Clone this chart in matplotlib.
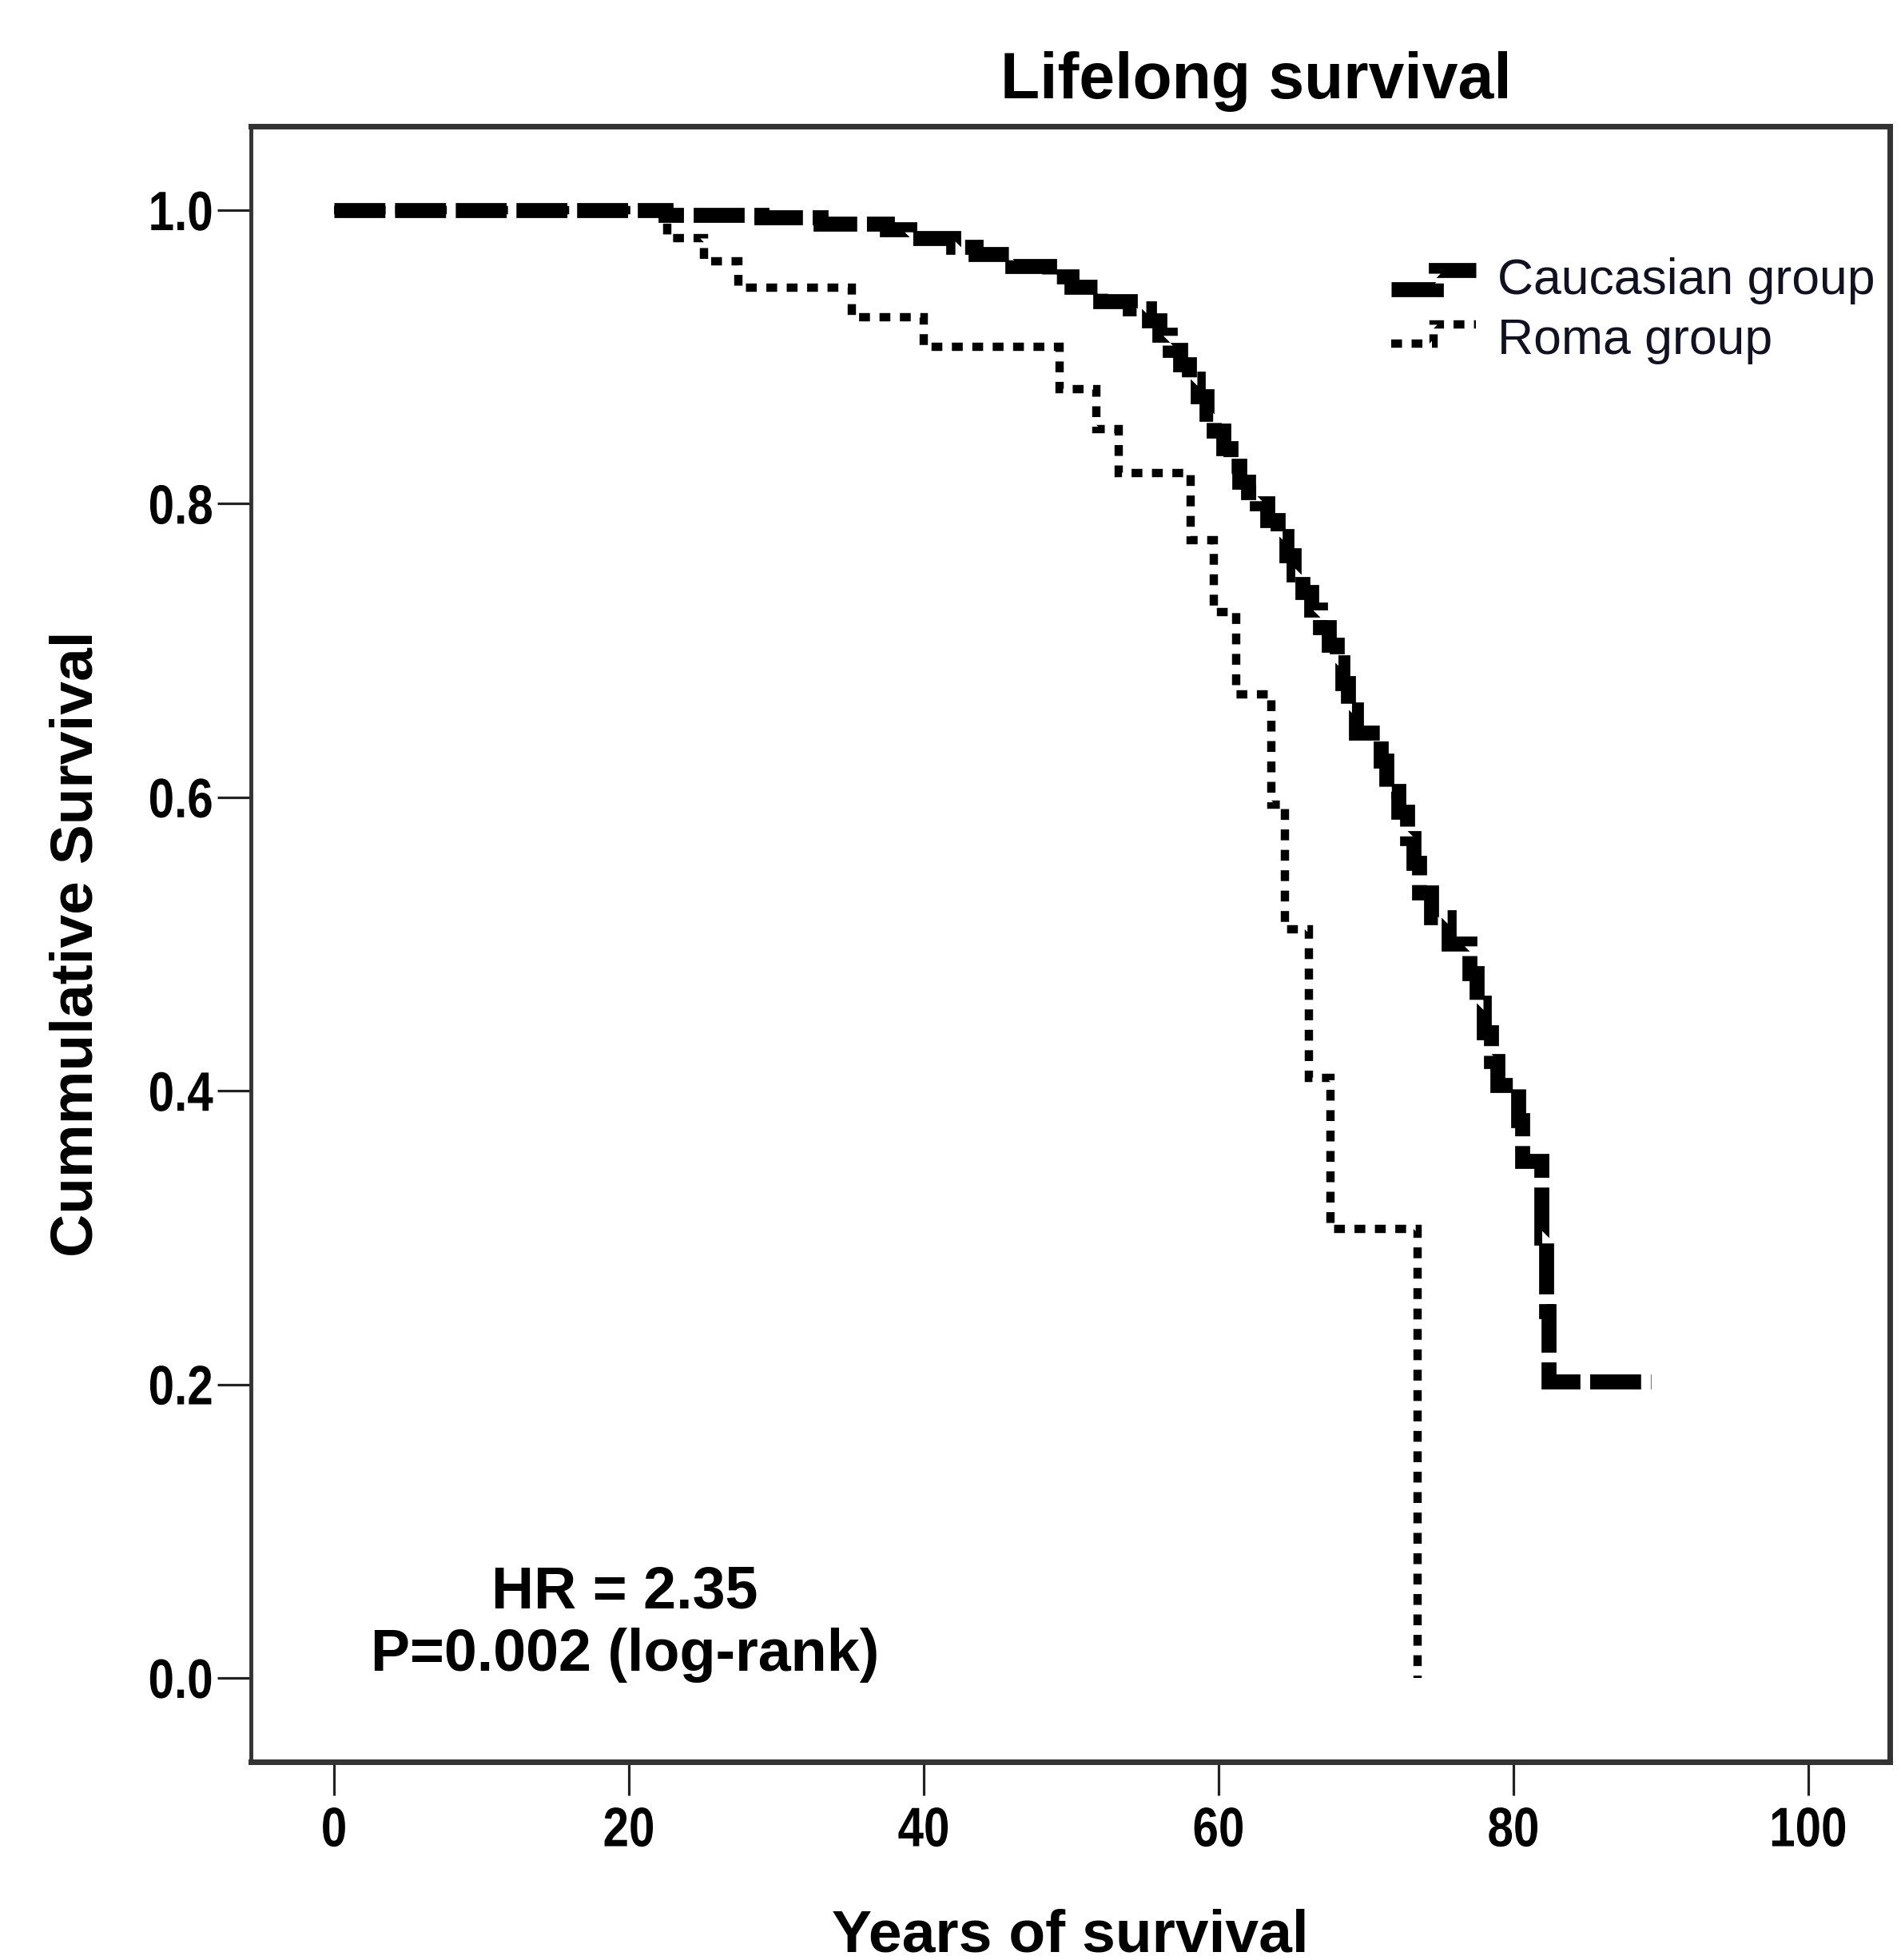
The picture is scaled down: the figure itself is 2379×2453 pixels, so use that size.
import matplotlib
matplotlib.use("Agg")
import matplotlib.pyplot as plt
from matplotlib import font_manager
from matplotlib.legend_handler import HandlerLine2D
from matplotlib.lines import Line2D
from matplotlib.patheffects import AbstractPathEffect
from matplotlib.transforms import Affine2D

# ---------------- data ----------------
roma_t = [0, 22.6, 25.1, 27.4, 35.1, 40.0, 49.2, 51.7, 53.2, 58.1, 59.7, 61.2,
          63.6, 64.5, 66.1, 67.6, 73.5]
roma_s = [1.0, 0.981, 0.965, 0.947, 0.927, 0.907, 0.878, 0.851, 0.821, 0.775,
          0.726, 0.670, 0.595, 0.510, 0.409, 0.306, 0.0]

cauc_t = [0, 22.5, 29.0, 33.0, 37.5, 39.0, 42.0, 43.5, 46.0, 48.5, 50.0, 52.0,
          54.0, 55.3, 56.0, 56.7, 57.4, 58.0, 58.6, 59.2, 59.7, 60.3, 60.8,
          61.4, 62.0, 62.6, 63.3, 64.0, 64.6, 65.1, 65.7, 66.3, 66.9, 67.5,
          68.0, 68.4, 68.8, 69.3, 71.0, 71.4, 72.2, 72.8, 73.2, 73.6, 74.4,
          75.6, 77.0, 77.5, 78.0, 78.5, 78.9, 80.3, 80.6, 81.9, 82.2, 82.4,
          89.3]
cauc_s = [1.0, 0.997, 0.995, 0.991, 0.987, 0.981, 0.975, 0.970, 0.962, 0.955,
          0.948, 0.938, 0.933, 0.925, 0.915, 0.905, 0.895, 0.885, 0.873, 0.861,
          0.850, 0.838, 0.826, 0.815, 0.808, 0.800, 0.789, 0.778, 0.765, 0.752,
          0.740, 0.728, 0.716, 0.704, 0.692, 0.678, 0.660, 0.644, 0.625, 0.604,
          0.590, 0.572, 0.555, 0.535, 0.518, 0.500, 0.480, 0.460, 0.440, 0.420,
          0.404, 0.380, 0.352, 0.300, 0.250, 0.2017, 0.2017]

labels = ["Caucasian group", "Roma group"]
x_ticks = [0, 20, 40, 60, 80, 100]
y_ticks = [0.0, 0.2, 0.4, 0.6, 0.8, 1.0]
y_ticklabels = ["0.0", "0.2", "0.4", "0.6", "0.8", "1.0"]
title = "Lifelong survival"
xlabel = "Years of survival"
ylabel = "Cummulative Survival"
annot = ["HR = 2.35", "P=0.002 (log-rank)"]

# ---------------- fonts ----------------
names = {f.name for f in font_manager.fontManager.ttflist}
main_font = "Liberation Sans" if "Liberation Sans" in names else "DejaVu Sans"
has_narrow = "Liberation Sans Narrow" in names
plt.rcParams["font.family"] = [main_font, "DejaVu Sans"]


class Squeeze(AbstractPathEffect):
    """Horizontally condense a text about its anchor point."""

    def __init__(self, text, sx):
        super().__init__()
        self.text = text
        self.sx = sx

    def draw_path(self, renderer, gc, tpath, affine, rgbFace=None):
        x0, _ = self.text.get_transform().transform(self.text.get_position())
        t = affine + Affine2D().translate(-x0, 0).scale(self.sx, 1.0).translate(x0, 0)
        renderer.draw_path(gc, tpath, t, rgbFace)


class StepHandler(HandlerLine2D):
    def __init__(self, lo, hi, xm, **kw):
        super().__init__(**kw)
        self.lo, self.hi, self.xm = lo, hi, xm

    def create_artists(self, legend, orig_handle, xdescent, ydescent,
                       width, height, fontsize, trans):
        x0 = -xdescent
        x1 = x0 + width
        xm = x0 + self.xm * width
        ylo = -ydescent + self.lo * height
        yhi = -ydescent + self.hi * height
        line = Line2D([x0, xm, xm, x1], [ylo, ylo, yhi, yhi])
        self.update_prop(line, orig_handle, legend)
        line.set_transform(trans)
        return [line]


fig = plt.figure(figsize=(23.79, 24.53), dpi=100)
fig.patch.set_facecolor("white")
ax = fig.add_axes([0.1320, 0.1011, 0.8621, 0.8345])

c_lw = 13.5
r_lw = 7.5
(l_c,) = ax.step(cauc_t, cauc_s, where="post", color="black", lw=c_lw,
                 dashes=(3.4, 0.65), dash_capstyle="butt", dash_joinstyle="miter",
                 label=labels[0], zorder=3)
(l_r,) = ax.step(roma_t, roma_s, where="post", color="black", lw=r_lw,
                 dashes=(1.3, 1.15), dash_capstyle="butt", dash_joinstyle="miter",
                 label=labels[1], zorder=2)

ax.set_xlim(-5.64, 105.53)
ax.set_ylim(-0.0572, 1.0572)
ax.set_xticks(x_ticks)
ax.set_xticklabels([str(v) for v in x_ticks])
ax.set_yticks(y_ticks)
ax.set_yticklabels(y_ticklabels)

for lab in ax.get_xticklabels() + ax.get_yticklabels():
    lab.set_fontweight("bold")
    lab.set_fontsize(50)
    if has_narrow:
        lab.set_fontfamily(["Liberation Sans Narrow", "DejaVu Sans"])
    else:
        lab.set_fontfamily([main_font, "DejaVu Sans"])
        lab.set_path_effects([Squeeze(lab, 0.84)])

ax.tick_params(axis="both", direction="out", length=30, width=2.3, color="#222222")
ax.tick_params(axis="y", pad=4)
ax.tick_params(axis="x", pad=10)

for side, sp in ax.spines.items():
    sp.set_color("#333333")
    sp.set_linewidth(5 if side != "left" else 3.5)

leg = ax.legend(handles=[l_c, l_r], labels=labels, loc="upper left",
                bbox_to_anchor=(0.6958, 0.920), frameon=False, fontsize=45,
                handlelength=1.70, handletextpad=0.42, labelspacing=0.26,
                borderpad=0, borderaxespad=0,
                handler_map={l_c: StepHandler(0.14, 0.69, 0.53),
                             l_r: StepHandler(0.30, 0.85, 0.50)})
for t in leg.get_texts():
    t.set_color("#111122")

ax.text(19.73, 0.0474, annot[0], ha="center", va="baseline", fontsize=53,
        fontweight="bold")
ax.text(19.73, 0.0049, annot[1], ha="center", va="baseline", fontsize=53,
        fontweight="bold")

fig.text(0.6608, 0.9500, title, ha="center", va="baseline", fontsize=58,
         fontweight="bold")
fig.text(0.5630, 0.0041, xlabel, ha="center", va="baseline", fontsize=54,
         fontweight="bold")
fig.text(0.0404, 0.1011 + 0.8345 / 2, ylabel, ha="center", va="center",
         rotation=90, fontsize=54, fontweight="bold")

fig.savefig("out.png", dpi=100, facecolor="white")
